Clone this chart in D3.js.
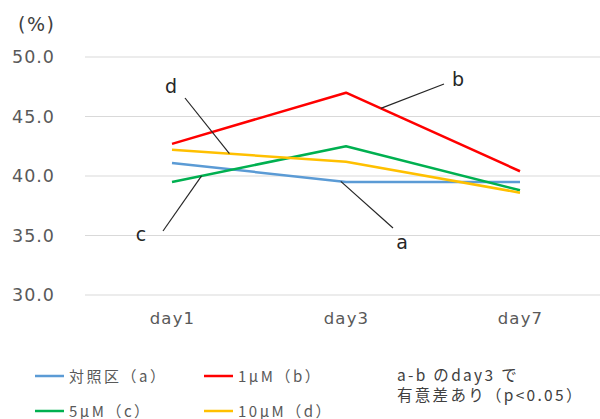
<!DOCTYPE html>
<html>
<head>
<meta charset="utf-8">
<script src="https://cdn.jsdelivr.net/npm/d3@7/dist/d3.min.js"></script>
<style>
  html, body { margin: 0; padding: 0; background: #fff; }
  svg { display: block; font-family: "Noto Sans CJK JP", "Noto Sans", sans-serif; }
</style>
</head>
<body>
<svg id="chart" width="600" height="419"></svg>
<script>
// Days measured
const days = ["day1", "day3", "day7"];

// Percent values per treatment group
const controlA = [41.1, 39.5, 39.5];
const oneMicroB = [42.7, 47.0, 40.4];
const fiveMicroC = [39.5, 42.5, 38.8];
const tenMicroD = [42.2, 41.2, 38.6];

const seriesNames = ["対照区（a）", "1μM（b）", "5μM（c）", "10μM（d）"];
const seriesColors = ["#5B9BD5", "#FF0000", "#00B050", "#FFC000"];
const seriesValues = [controlA, oneMicroB, fiveMicroC, tenMicroD];

const yTicks = [30, 35, 40, 45, 50];

const latin = "'DejaVu Sans', 'Noto Sans', sans-serif";
const svg = d3.select("#chart");

const x = d3.scalePoint().domain(days).range([172, 520]);
const y = d3.scaleLinear().domain([30, 50]).range([295, 57]);

// Horizontal gridlines
svg.append("g")
  .selectAll("line")
  .data(yTicks)
  .join("line")
  .attr("x1", 85).attr("x2", 600)
  .attr("y1", d => y(d)).attr("y2", d => y(d))
  .attr("stroke", "#d9d9d9").attr("stroke-width", 1);

// Y axis labels
const yAxis = d3.axisLeft(y).tickValues(yTicks).tickFormat(d3.format(".1f")).tickSize(0).tickPadding(0);
const yg = svg.append("g").attr("transform", "translate(55,0)").call(yAxis);
yg.select(".domain").remove();
yg.selectAll("text").attr("font-size", 17.5).attr("fill", "#595959")
  .attr("letter-spacing", 1).attr("font-family", latin);

// X axis labels
const xAxis = d3.axisBottom(x).tickSize(0).tickPadding(0);
const xg = svg.append("g").attr("transform", "translate(0,312)").call(xAxis);
xg.select(".domain").remove();
xg.selectAll("text").attr("font-size", 16.5).attr("fill", "#595959")
  .attr("letter-spacing", 1.2).attr("font-family", latin);

// Unit label
svg.append("text").attr("x", 18).attr("y", 31)
  .attr("font-size", 19).attr("fill", "#404040")
  .attr("letter-spacing", 1.5).attr("font-family", latin)
  .text("(%)");

// Lines
const line = d3.line().x((d, i) => x(days[i])).y(d => y(d));
svg.append("g")
  .selectAll("path")
  .data(seriesValues)
  .join("path")
  .attr("d", d => line(d))
  .attr("fill", "none")
  .attr("stroke", (d, i) => seriesColors[i])
  .attr("stroke-width", 2.5)
  .attr("stroke-linejoin", "round");

// Leader lines with letter labels; anchor sits on a series at a fraction along a segment
const callouts = [
  { series: 3, seg: 0, t: 0.33, from: [185, 98], label: "d", lx: 171, ly: 93 },
  { series: 1, seg: 1, t: 0.20, from: [444, 84], label: "b", lx: 458, ly: 86 },
  { series: 2, seg: 0, t: 0.17, from: [163, 231], label: "c", lx: 141, ly: 241 },
  { series: 0, seg: 0, t: 0.97, from: [393, 228], label: "a", lx: 402, ly: 249 }
];
function anchor(c) {
  const vals = seriesValues[c.series];
  const x0 = x(days[c.seg]), x1 = x(days[c.seg + 1]);
  const v = vals[c.seg] + (vals[c.seg + 1] - vals[c.seg]) * c.t;
  return [x0 + (x1 - x0) * c.t, y(v)];
}
const cg = svg.append("g");
callouts.forEach(c => {
  const a = anchor(c);
  cg.append("line")
    .attr("x1", c.from[0]).attr("y1", c.from[1])
    .attr("x2", a[0]).attr("y2", a[1])
    .attr("stroke", "#262626").attr("stroke-width", 1.2);
  cg.append("text").attr("x", c.lx).attr("y", c.ly)
    .attr("text-anchor", "middle").attr("font-size", 19).attr("fill", "#262626")
    .attr("font-family", latin)
    .text(c.label);
});

// Legend
const legendPos = [[35, 376], [204, 376], [35, 411], [204, 411]];
const lg = svg.append("g");
seriesNames.forEach((name, i) => {
  const [lx, ly] = legendPos[i];
  lg.append("line").attr("x1", lx).attr("x2", lx + 29).attr("y1", ly).attr("y2", ly)
    .attr("stroke", seriesColors[i]).attr("stroke-width", 2.5);
  lg.append("text").attr("x", lx + 34).attr("y", ly + 5.5)
    .attr("font-size", 15).attr("fill", "#595959")
    .attr("letter-spacing", 2.5)
    .text(name);
});

// Significance note
const note = svg.append("text").attr("font-size", 15.5).attr("fill", "#404040")
  .attr("letter-spacing", 2.3);
note.append("tspan").attr("x", 397).attr("y", 381).text("a-b のday3 で");
note.append("tspan").attr("x", 397).attr("y", 401).text("有意差あり（p<0.05）");
</script>
</body>
</html>
